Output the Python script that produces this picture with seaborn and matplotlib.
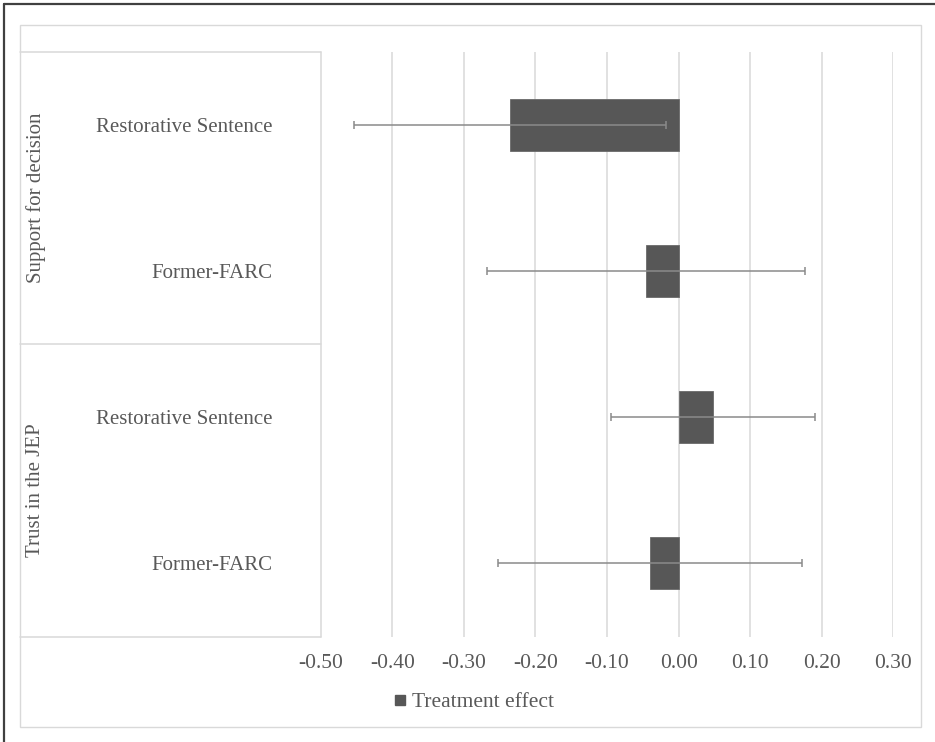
import matplotlib
matplotlib.use("Agg")
import matplotlib.pyplot as plt
from matplotlib.lines import Line2D
from matplotlib.patches import Rectangle
import seaborn as sns
import pandas as pd
import numpy as np

# Data
groups = ["Support for decision", "Support for decision", "Trust in the JEP", "Trust in the JEP"]
items = ["Restorative Sentence", "Former-FARC", "Restorative Sentence", "Former-FARC"]
effect = [-0.236, -0.045, 0.048, -0.040]
ci_low = [-0.454, -0.267, -0.095, -0.252]
ci_high = [-0.018, 0.176, 0.191, 0.172]
xticks = [-0.50, -0.40, -0.30, -0.20, -0.10, 0.00, 0.10, 0.20, 0.30]
legend_label = "Treatment effect"

df = pd.DataFrame({
    "row": [f"{g} | {i}" for g, i in zip(groups, items)],
    "item": items,
    "effect": effect,
})

sns.set_theme(style="white")
plt.rcParams["font.family"] = ["Liberation Serif", "DejaVu Serif"]

W, H = 935, 742
fig = plt.figure(figsize=(W / 100, H / 100), dpi=100)
fig.patch.set_facecolor("white")

def fx(px):
    return px / W

def fy(py):
    return 1 - py / H

ax_left, ax_right, ax_top, ax_bottom = 320.7, 893.3, 51.7, 636.5
ax = fig.add_axes([fx(ax_left), fy(ax_bottom), fx(ax_right - ax_left), (ax_bottom - ax_top) / H])

text_col = "#595959"
grid_col = "#d9d9d9"
bar_col = "#575757"

sns.barplot(data=df, y="row", x="effect", orient="h", color=bar_col,
            width=0.356, errorbar=None, ax=ax, saturation=1, edgecolor="#6a6a6a", linewidth=0.6)

ypos = np.arange(len(df))
xerr = np.array([np.array(effect) - np.array(ci_low), np.array(ci_high) - np.array(effect)])
ax.errorbar(effect, ypos, xerr=xerr, fmt="none", ecolor="#8a8a8a", elinewidth=1.1,
            capsize=3, capthick=1.1, zorder=5)

ax.set_xlim(-0.5, 0.3)
ax.set_ylim(len(df) - 0.5, -0.5)
ax.set_xticks(xticks)
ax.set_xticklabels([f"{t:.2f}" for t in xticks])
ax.set_yticks(ypos)
ax.set_yticklabels(items)
ax.set_xlabel("")
ax.set_ylabel("")
ax.tick_params(axis="x", length=0, pad=12.5, labelsize=15.5, labelcolor=text_col)
ax.tick_params(axis="y", length=0, pad=34.5, labelsize=15, labelcolor=text_col)
for s in ax.spines.values():
    s.set_visible(False)
ax.set_axisbelow(True)
ax.xaxis.grid(True, color=grid_col, linewidth=1.1)
ax.yaxis.grid(False)
# the -0.50 gridline coincides with the category box edge
ax.get_xgridlines()[0].set_visible(False)

# Category box on the left
box_kw = dict(color=grid_col, linewidth=1.1, transform=fig.transFigure)
for py in (51.7, 344.0, 636.5):
    fig.add_artist(Line2D([fx(20), fx(ax_left)], [fy(py), fy(py)], **box_kw))
fig.add_artist(Line2D([fx(ax_left), fx(ax_left)], [fy(51.7), fy(636.5)], **box_kw))

# Group labels
for g, yc in (("Support for decision", 198.0), ("Trust in the JEP", 490.0)):
    fig.text(fx(36), fy(yc), g, rotation=90, ha="center", va="center",
             fontsize=15, color=text_col)

# Chart area frame
fig.add_artist(Rectangle((fx(20), fy(727)), fx(921 - 20), (727 - 25) / H,
                         fill=False, edgecolor=grid_col, linewidth=1.0,
                         transform=fig.transFigure))
# Outer page border (left and top)
edge_kw = dict(color="#404040", linewidth=1.6, transform=fig.transFigure)
fig.add_artist(Line2D([fx(4), fx(4)], [fy(4), 0], **edge_kw))
fig.add_artist(Line2D([fx(4), 1], [fy(4), fy(4)], **edge_kw))

# Legend
handle = Line2D([], [], marker="s", linestyle="none", markersize=7.5,
                markerfacecolor=bar_col, markeredgecolor=bar_col)
fig.legend([handle], [legend_label], loc="center", bbox_to_anchor=(fx(474), fy(702)),
           frameon=False, fontsize=15.5, labelcolor=text_col, handlelength=0.6,
           handletextpad=0.25, borderpad=0)

fig.savefig("out.png", dpi=100, facecolor="white")
